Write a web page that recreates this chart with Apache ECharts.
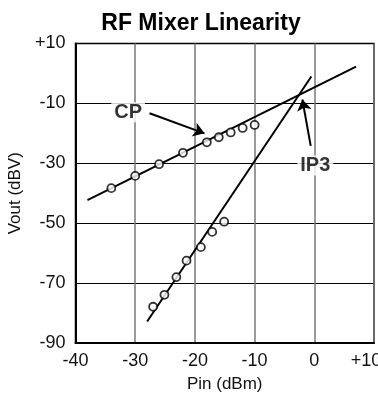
<!DOCTYPE html>
<html>
<head>
<meta charset="utf-8">
<script src="https://cdn.jsdelivr.net/npm/echarts@6/dist/echarts.min.js"></script>
<style>
  html, body { margin: 0; padding: 0; background: #fff; }
  #chart { width: 378px; height: 396px; }
</style>
</head>
<body>
<div id="chart"></div>
<script>
// measured points (Pin dBm, Vout dBV)
var cpPin  = [-34, -30, -26, -22, -18, -16, -14, -12, -10];
var cpVout = [-38.3, -34.2, -30.3, -26.5, -23.0, -21.3, -19.7, -18.2, -17.2];
var im3Pin  = [-27, -25.1, -23.1, -21.4, -19, -17.1, -15.1];
var im3Vout = [-77.9, -73.9, -68.0, -62.5, -58.0, -52.9, -49.5];

// extrapolated fit lines (endpoints)
var fundLine = [[-38, -42.3], [7, 2.3]];
var im3Line  = [[-28, -82.8], [-0.5, -1.0]];

// annotations
var labels = [
  { name: 'CP',  at: [-31.1, -13.1] },
  { name: 'IP3', at: [0.25, -30.9] }
];
var arrows = [
  [[-27.6, -13.3], [-18.4, -20.0]],
  [[-0.6, -24.2], [-2.0, -8.7]]
];

var xTicks = { min: -40, max: 10, step: 10 };
var yTicks = { min: -90, max: 10, step: 20 };

function zip(a, b) { return a.map(function (v, i) { return [v, b[i]]; }); }
function signed(v) { return v > 0 ? '+' + v : '' + v; }

var chart = echarts.init(document.getElementById('chart'), null, { renderer: 'canvas' });

var font = 'Liberation Sans, Arial, sans-serif';

var option = {
  animation: false,
  textStyle: { fontFamily: font },
  title: {
    text: 'RF Mixer Linearity',
    left: 196, top: 7, textAlign: 'center',
    textStyle: { fontSize: 23, fontWeight: 'bold', color: '#000', fontFamily: font }
  },
  grid: {
    left: 75.5, right: 4, top: 43.5, bottom: 53,
    show: true, borderColor: '#000', borderWidth: 1.5,
    containLabel: false, outerBoundsMode: 'none'
  },
  xAxis: {
    type: 'value', min: xTicks.min, max: xTicks.max, interval: xTicks.step,
    name: 'Pin (dBm)', nameLocation: 'middle', nameGap: 33,
    nameTextStyle: { fontSize: 17, color: '#111', fontFamily: font },
    axisLine: { show: true, onZero: false, lineStyle: { color: '#000', width: 2 } },
    axisTick: { show: false },
    axisLabel: {
      fontSize: 18, color: '#111', margin: 9, fontFamily: font,
      alignMaxLabel: 'center', alignMinLabel: 'center', hideOverlap: false,
      formatter: function (v) {
        return v === xTicks.max ? '{r|' + signed(v) + '}' : signed(v);
      },
      rich: { r: { fontSize: 18, color: '#111', fontFamily: font, padding: [0, 16, 0, 0] } }
    },
    splitLine: { show: true, lineStyle: { color: '#777', width: 1.5 } }
  },
  yAxis: {
    type: 'value', min: yTicks.min, max: yTicks.max, interval: yTicks.step,
    name: 'Vout (dBV)', nameLocation: 'middle', nameGap: 49,
    nameTextStyle: { fontSize: 17, color: '#111', fontFamily: font },
    axisLine: { show: true, onZero: false, lineStyle: { color: '#000', width: 2 } },
    axisTick: { show: false },
    axisLabel: { formatter: signed, fontSize: 18, color: '#111', margin: 10, fontFamily: font },
    splitLine: { show: true, lineStyle: { color: '#000', width: 1.2 } }
  },
  series: [
    {
      type: 'line', data: fundLine, symbol: 'none',
      lineStyle: { color: '#000', width: 2 }, z: 3
    },
    {
      type: 'line', data: im3Line, symbol: 'none',
      lineStyle: { color: '#000', width: 2 }, z: 3
    },
    {
      type: 'scatter', data: zip(cpPin, cpVout),
      symbol: 'circle', symbolSize: 8,
      itemStyle: { color: '#fff', borderColor: '#000', borderWidth: 1.8 }, z: 5
    },
    {
      type: 'scatter', data: zip(im3Pin, im3Vout),
      symbol: 'circle', symbolSize: 8,
      itemStyle: { color: '#fff', borderColor: '#000', borderWidth: 1.8 }, z: 5
    },
    {
      type: 'lines', coordinateSystem: 'cartesian2d',
      data: arrows.map(function (a) { return { coords: a }; }),
      symbol: ['none', 'arrow'], symbolSize: [7, 11],
      lineStyle: { color: '#000', width: 2, opacity: 1 }, z: 6
    },
    {
      type: 'scatter', symbol: 'circle', symbolSize: 1,
      itemStyle: { color: '#fff' },
      data: labels.map(function (l) { return { name: l.name, value: l.at }; }),
      label: {
        show: true, position: [0, 0], align: 'center', verticalAlign: 'middle',
        formatter: '{b}', fontSize: 20, fontWeight: 'bold', color: '#000',
        textBorderWidth: 0, fontFamily: font, backgroundColor: '#fff', padding: [0, 3]
      },
      emphasis: { disabled: true },
      z: 7
    }
  ]
};
chart.setOption(option);
</script>
</body>
</html>
